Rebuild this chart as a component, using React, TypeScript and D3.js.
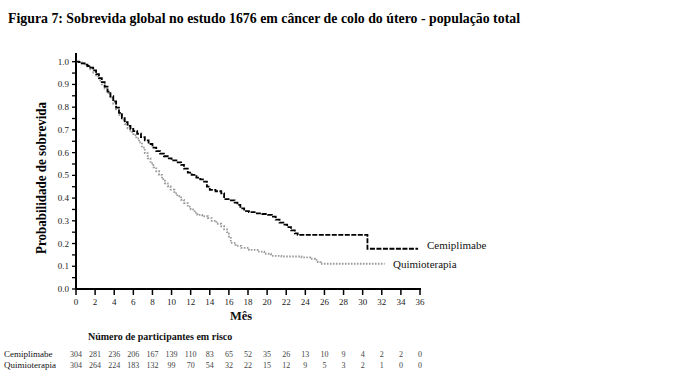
import React from "react";
import * as d3 from "d3";

const titleText = "Figura 7: Sobrevida global no estudo 1676 em câncer de colo do útero - população total";
const yLabel = "Probabilidade de sobrevida";
const xLabel = "Mês";
const riskTitle = "Número de participantes em risco";

const xTicks = [0, 2, 4, 6, 8, 10, 12, 14, 16, 18, 20, 22, 24, 26, 28, 30, 32, 34, 36];
const yTicks = [0, 0.1, 0.2, 0.3, 0.4, 0.5, 0.6, 0.7, 0.8, 0.9, 1.0];

const cemiTime = [0, 0.3, 0.6, 0.9, 1.2, 1.5, 1.8, 2.1, 2.4, 2.7, 3.0, 3.3, 3.6, 3.9, 4.2, 4.5, 4.8, 5.1, 5.4, 5.7, 6.0, 6.4, 6.8, 7.2, 7.6, 8.0, 8.4, 8.8, 9.2, 9.6, 10.0, 10.5, 11.0, 11.3, 11.7, 12.1, 12.6, 13.0, 13.4, 13.7, 14.0, 14.6, 15.2, 15.5, 16.2, 16.6, 16.9, 17.2, 17.6, 18.1, 18.8, 19.5, 20.1, 20.5, 20.9, 21.3, 21.7, 22.1, 22.5, 22.9, 23.2, 30.5, 35.8];
const cemiSurv = [1.0, 0.998, 0.993, 0.987, 0.981, 0.974, 0.962, 0.945, 0.928, 0.91, 0.89, 0.868, 0.848, 0.825, 0.798, 0.775, 0.752, 0.734, 0.718, 0.704, 0.695, 0.683, 0.668, 0.654, 0.638, 0.622, 0.607, 0.596, 0.584, 0.575, 0.566, 0.557, 0.546, 0.53, 0.512, 0.502, 0.49, 0.482, 0.472, 0.45, 0.436, 0.43, 0.421, 0.395, 0.39, 0.38, 0.37, 0.355, 0.343, 0.338, 0.333, 0.33, 0.326, 0.318, 0.305, 0.292, 0.283, 0.272, 0.258, 0.245, 0.238, 0.177, 0.177];

const quimTime = [0, 0.3, 0.6, 0.9, 1.2, 1.5, 1.8, 2.1, 2.4, 2.7, 3.0, 3.3, 3.6, 3.9, 4.2, 4.5, 4.8, 5.1, 5.4, 5.7, 6.0, 6.3, 6.6, 6.9, 7.2, 7.5, 7.8, 8.1, 8.4, 8.7, 9.0, 9.3, 9.6, 9.9, 10.3, 10.6, 11.0, 11.3, 11.7, 12.0, 12.4, 12.7, 13.2, 13.8, 14.2, 14.7, 15.2, 15.5, 15.8, 16.0, 16.2, 16.7, 17.3, 18.1, 19.0, 19.7, 20.4, 21.5, 23.6, 24.5, 25.0, 25.3, 25.6, 32.3];
const quimSurv = [1.0, 0.998, 0.993, 0.987, 0.978, 0.966, 0.952, 0.935, 0.918, 0.9, 0.882, 0.862, 0.84, 0.815, 0.79, 0.766, 0.744, 0.725, 0.707, 0.69, 0.677, 0.663, 0.645, 0.622, 0.598, 0.575, 0.553, 0.535, 0.518, 0.502, 0.483, 0.465, 0.452, 0.437, 0.421, 0.408, 0.392, 0.378, 0.362, 0.35, 0.336, 0.326, 0.32, 0.312, 0.3, 0.287, 0.276, 0.262, 0.25, 0.225, 0.203, 0.19, 0.181, 0.172, 0.164, 0.155, 0.146, 0.143, 0.139, 0.133, 0.128, 0.118, 0.111, 0.111];

const riskCemi = [304, 281, 236, 206, 167, 139, 110, 83, 65, 52, 35, 26, 13, 10, 9, 4, 2, 2, 0];
const riskQuim = [304, 264, 224, 183, 132, 99, 70, 54, 32, 22, 15, 12, 9, 5, 3, 2, 1, 0, 0];

const W = 681;
const H = 378;
const x0 = 76, x1 = 420, yTop = 61.7, yBot = 289;

export default function App() {
  const x = d3.scaleLinear().domain([0, 36]).range([x0, x1]);
  const y = d3.scaleLinear().domain([0, 1]).range([yBot, yTop]);
  const line = d3.line<[number, number]>().x(d => x(d[0])).y(d => y(d[1])).curve(d3.curveStepAfter);
  const cemi = cemiTime.map((t, i) => [t, cemiSurv[i]] as [number, number]);
  const quim = quimTime.map((t, i) => [t, quimSurv[i]] as [number, number]);
  const minor = d3.range(0, 21).map(i => i * 0.05);
  const font = "'Liberation Serif', 'Times New Roman', serif";
  return (
    <svg width={W} height={H} style={{ position: "absolute", left: 0, top: 0, background: "#fff", fontFamily: font }}>
      <text x={8} y={23} fontSize={14} fontWeight="bold" textLength={512} lengthAdjust="spacingAndGlyphs">{titleText}</text>
      {/* axes */}
      <line x1={x0} x2={x0} y1={53} y2={yBot} stroke="#000" strokeWidth={2} />
      <line x1={x0} x2={x1 + 1} y1={yBot} y2={yBot} stroke="#000" strokeWidth={2} />
      {minor.map((v, i) => (
        <line key={"m" + i} x1={x0 - 4} x2={x0} y1={y(v)} y2={y(v)} stroke="#000" strokeWidth={1.3} />
      ))}
      {yTicks.map(v => (
        <text key={"yt" + v} x={x0 - 7} y={y(v) + 3} fontSize={9} textAnchor="end" fill="#222">{v.toFixed(1)}</text>
      ))}
      {xTicks.map(v => (
        <g key={"xt" + v}>
          <line x1={x(v)} x2={x(v)} y1={yBot} y2={yBot + 6} stroke="#000" strokeWidth={1.5} />
          <text x={x(v)} y={yBot + 16} fontSize={9} textAnchor="middle" fill="#222">{v}</text>
        </g>
      ))}
      <text x={241} y={320} fontSize={12.5} fontWeight="bold" textAnchor="middle" fill="#111">{xLabel}</text>
      <text transform={`translate(46,178) rotate(-90)`} fontSize={14} fontWeight="bold" textAnchor="middle" textLength={152} lengthAdjust="spacingAndGlyphs">{yLabel}</text>
      {/* curves */}
      <path d={line(quim) || ""} fill="none" stroke="#9a9a9a" strokeWidth={1.8} strokeDasharray="1.6,1.4" />
      <path d={line(cemi) || ""} fill="none" stroke="#000" strokeWidth={1.8} strokeDasharray="5,1.5" />
      <text x={427} y={249} fontSize={11} fill="#111">Cemiplimabe</text>
      <text x={393} y={268} fontSize={11} fill="#111">Quimioterapia</text>
      {/* risk table */}
      <text x={88} y={340} fontSize={10} fontWeight="bold" fill="#111">{riskTitle}</text>
      <text x={4} y={357} fontSize={9} fill="#111">Cemiplimabe</text>
      <text x={4} y={368} fontSize={9} fill="#111">Quimioterapia</text>
      {riskCemi.map((v, i) => (
        <text key={"rc" + i} x={x(xTicks[i])} y={357} fontSize={8} textAnchor="middle" fill="#444">{v}</text>
      ))}
      {riskQuim.map((v, i) => (
        <text key={"rq" + i} x={x(xTicks[i])} y={368} fontSize={8} textAnchor="middle" fill="#444">{v}</text>
      ))}
    </svg>
  );
}
